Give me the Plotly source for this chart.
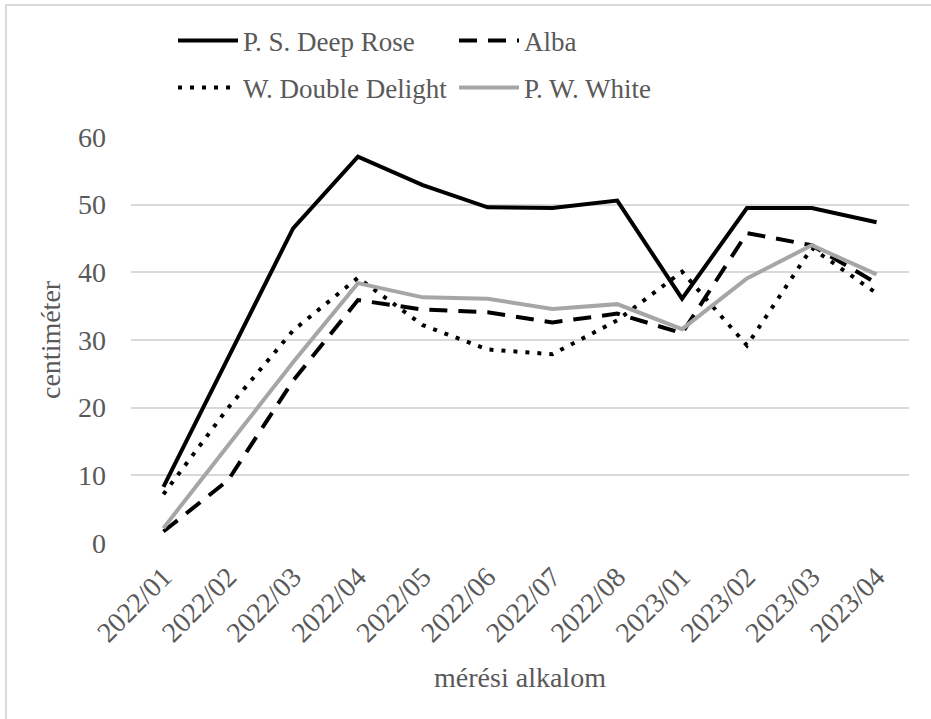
import plotly.graph_objects as go

categories = ["2022/01", "2022/02", "2022/03", "2022/04", "2022/05", "2022/06",
              "2022/07", "2022/08", "2023/01", "2023/02", "2023/03", "2023/04"]
deep_rose = [8.3, 27.5, 46.5, 57.1, 52.9, 49.6, 49.5, 50.6, 36.1, 49.5, 49.5, 47.4]
alba = [1.7, 9.3, 24.0, 35.9, 34.5, 34.1, 32.6, 33.9, 31.0, 45.8, 44.0, 38.4]
double_delight = [7.2, 20.0, 31.4, 39.2, 32.2, 28.6, 27.9, 32.9, 40.1, 29.2, 43.6, 36.9]
pw_white = [2.2, 14.5, 26.7, 38.4, 36.3, 36.1, 34.6, 35.3, 31.6, 39.1, 44.0, 39.7]
y_ticks = [0, 10, 20, 30, 40, 50, 60]

FONT = "Liberation Serif"
TXT = "#595959"
FS = 28
W, H = 931, 719
L, R, T, B = 131, 22, 137, 176
PW, PH = W - L - R, H - T - B


def px_x(p):
    return (p - L) / PW


def px_y(p):
    return (H - B - p) / PH


fig = go.Figure()
fig.add_trace(go.Scatter(x=categories, y=deep_rose, name="P. S. Deep Rose", mode="lines",
                         line=dict(color="black", width=4), legend="legend"))
fig.add_trace(go.Scatter(x=categories, y=alba, name="Alba", mode="lines",
                         line=dict(color="black", width=4, dash="18px,11px"), legend="legend"))
fig.add_trace(go.Scatter(x=categories, y=double_delight, name="W. Double Delight", mode="lines",
                         line=dict(color="black", width=4, dash="4px,8px"), legend="legend2"))
fig.add_trace(go.Scatter(x=categories, y=pw_white, name="P. W. White", mode="lines",
                         line=dict(color="#A6A6A6", width=4), legend="legend2"))

leg_common = dict(orientation="h", xanchor="left", yanchor="middle",
                  font=dict(family=FONT, size=27, color=TXT),
                  itemwidth=60, entrywidth=206, bgcolor="rgba(0,0,0,0)",
                  traceorder="normal")

fig.update_layout(
    width=W, height=H,
    margin=dict(l=L, r=R, t=T, b=B),
    paper_bgcolor="white", plot_bgcolor="white",
    font=dict(family=FONT, size=FS, color=TXT),
    legend=dict(x=px_x(173), y=px_y(41), **leg_common),
    legend2=dict(x=px_x(173), y=px_y(88), **leg_common),
    xaxis=dict(type="category", tickangle=-45, showgrid=False, zeroline=False,
               range=[-0.5, len(categories) - 0.5],
               showline=False, ticks="", ticklabelstandoff=11,
               tickfont=dict(family=FONT, size=FS, color=TXT),
               title=dict(text="mérési alkalom", font=dict(family=FONT, size=FS, color=TXT),
                          standoff=20)),
    yaxis=dict(range=[0, 60], tickvals=y_ticks, showgrid=True, gridcolor="#D9D9D9",
               gridwidth=2, zeroline=False, showline=False, ticks="",
               ticklabelstandoff=24,
               tickfont=dict(family=FONT, size=FS, color=TXT)),
    annotations=[dict(text="centiméter", xref="paper", yref="paper",
                      x=px_x(50), y=0.5, xanchor="center", yanchor="middle",
                      textangle=-90, showarrow=False,
                      font=dict(family=FONT, size=FS, color=TXT))],
    shapes=[dict(type="rect", xref="paper", yref="paper",
                 x0=px_x(6), x1=px_x(945), y0=px_y(735), y1=px_y(5),
                 line=dict(color="#D9D9D9", width=2), fillcolor="rgba(0,0,0,0)",
                 layer="below")],
)

fig.write_html("out.html")
